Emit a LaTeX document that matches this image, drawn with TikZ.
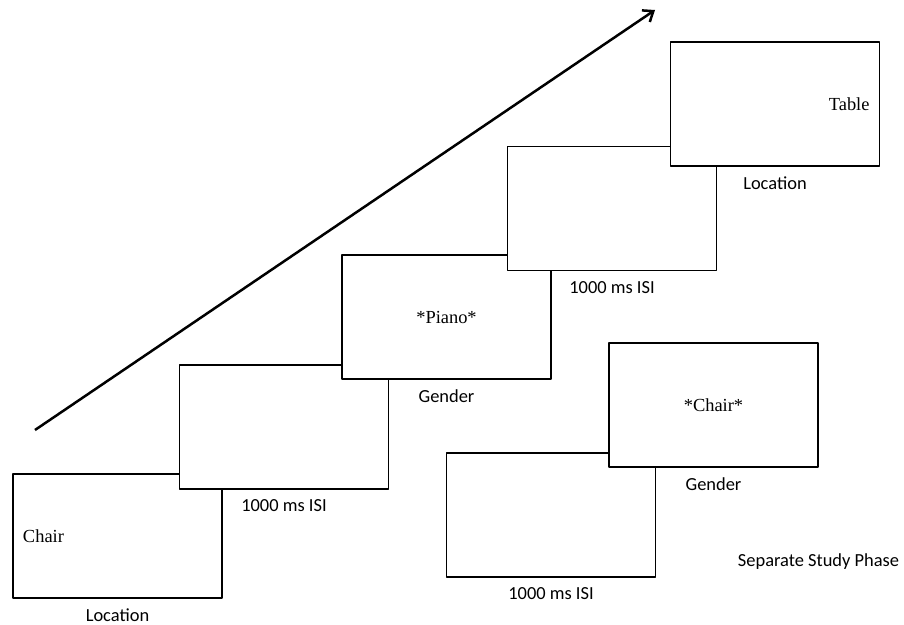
\documentclass[tikz,border=0pt]{standalone}
\usepackage{fontspec}
\setmainfont{Liberation Serif}
\newfontfamily\calibri{Carlito}
\usetikzlibrary{positioning,arrows.meta}
\begin{document}
\begin{tikzpicture}[x=1bp,y=-1bp,line join=round,
    screen/.style={draw,fill=white,line width=1.3bp,minimum width=209bp,minimum height=124bp,
      inner sep=0pt,text width=189bp,font=\fontsize{18.5}{22}\selectfont},
    caption/.style={inner sep=0pt,font=\calibri\fontsize{18.5}{22}\selectfont}]
    \useasboundingbox (0,0) rectangle (904,625);
    % time arrow
    \coordinate (tail) at (35,430);
    \coordinate (tip) at (655,10);
    \draw[-{Straight Barb[length=9bp,width=14bp]},line width=2.5bp] (tail)--(tip);
    % test sequence
    \node[screen,align=left] (c1) at (117.5,536) {Chair};
    \node[screen] (c2) at (284,427) {};
    \node[screen,align=center] (c3) at (446.5,317) {*Piano*};
    \node[screen] (c4) at (612,208.5) {};
    \node[screen,align=right] (c5) at (775,104) {Table};
    \node[caption,below=10bp of c1] (c1lab) {Location};
    \node[caption,below=10bp of c2] (c2lab) {1000 ms ISI};
    \node[caption,below=10bp of c3] (c3lab) {Gender};
    \node[caption,below=10bp of c4] (c4lab) {1000 ms ISI};
    \node[caption,below=10bp of c5] (c5lab) {Location};
    % study phase
    \node[screen] (s1) at (551,515) {};
    \node[screen,align=center] (s2) at (713.5,405) {*Chair*};
    \node[caption,below=10bp of s1] (s1lab) {1000 ms ISI};
    \node[caption,below=10bp of s2] (s2lab) {Gender};
    \node[caption] (phase) at (818.5,562) {Separate Study Phase};
\end{tikzpicture}
\end{document}
